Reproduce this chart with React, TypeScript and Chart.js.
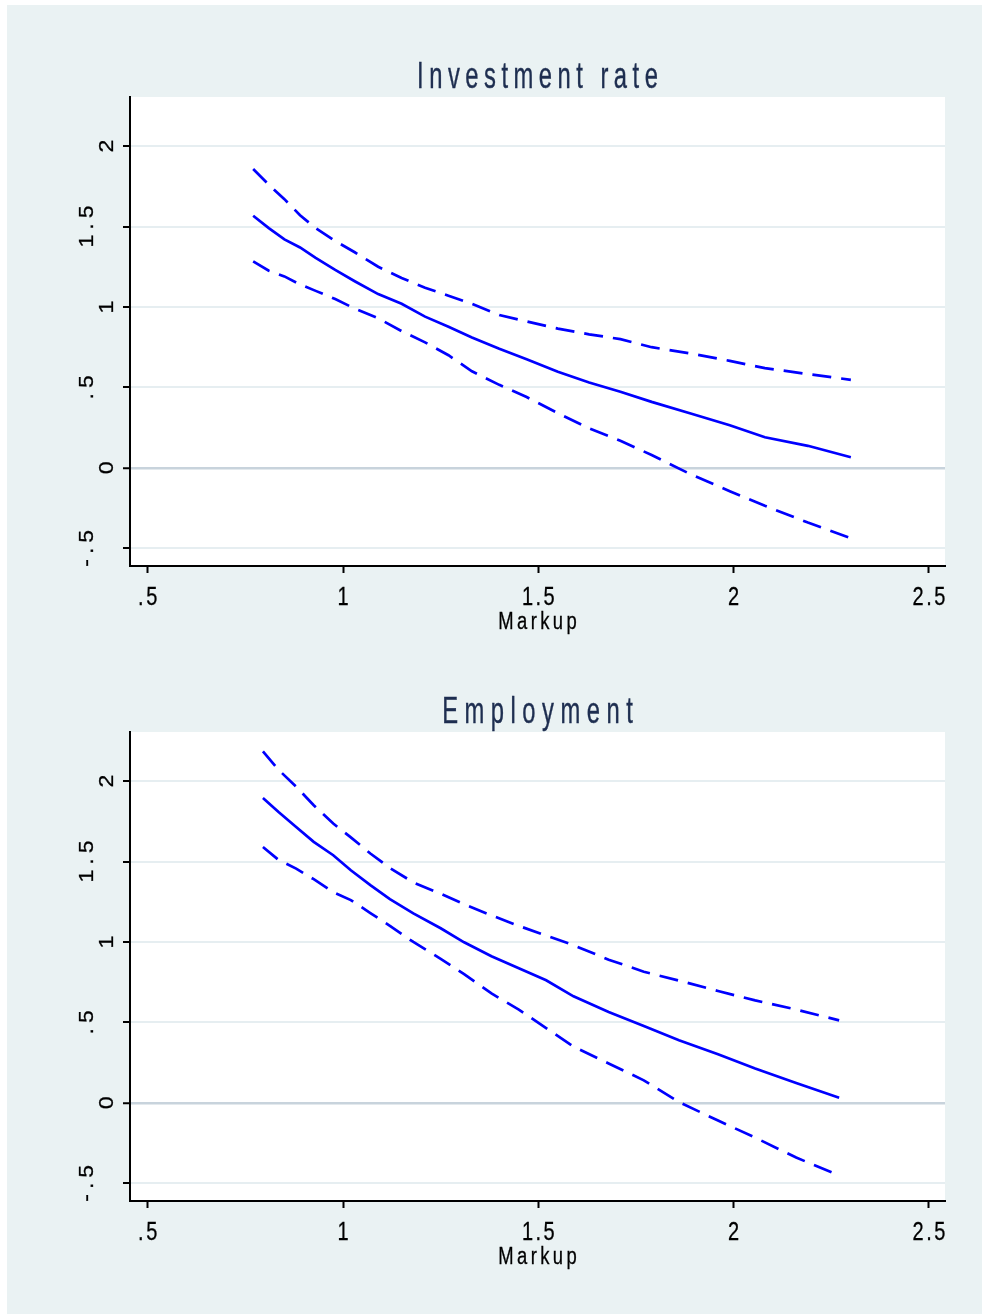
import React, { useEffect, useRef } from "react";
import { Chart, registerables } from "chart.js";

Chart.register(...registerables);

// ---------- data ----------
const investX = [0.77, 0.81, 0.85, 0.89, 0.93, 0.98, 1.03, 1.09, 1.15, 1.21, 1.27, 1.33, 1.4, 1.47, 1.55, 1.63, 1.71, 1.79, 1.89, 1.99, 2.08, 2.19, 2.3];
const investMid = [1.567, 1.49, 1.42, 1.37, 1.305, 1.23, 1.16, 1.08, 1.02, 0.94, 0.877, 0.81, 0.74, 0.675, 0.597, 0.53, 0.473, 0.41, 0.338, 0.265, 0.19, 0.137, 0.066];
const investUpper = [1.857, 1.76, 1.67, 1.57, 1.49, 1.41, 1.34, 1.25, 1.18, 1.12, 1.07, 1.02, 0.95, 0.91, 0.865, 0.83, 0.8, 0.75, 0.711, 0.665, 0.62, 0.583, 0.547];
const investLower = [1.283, 1.225, 1.19, 1.14, 1.1, 1.049, 0.99, 0.93, 0.85, 0.78, 0.7, 0.6, 0.516, 0.44, 0.34, 0.245, 0.168, 0.08, -0.04, -0.145, -0.236, -0.34, -0.437];

const employX = [0.795, 0.835, 0.88, 0.925, 0.975, 1.02, 1.07, 1.12, 1.18, 1.25, 1.31, 1.38, 1.45, 1.52, 1.59, 1.68, 1.77, 1.86, 1.96, 2.055, 2.16, 2.27];
const employMid = [1.895, 1.808, 1.715, 1.622, 1.539, 1.446, 1.353, 1.266, 1.178, 1.085, 0.998, 0.911, 0.836, 0.762, 0.662, 0.565, 0.478, 0.389, 0.302, 0.213, 0.123, 0.032];
const employUpper = [2.185, 2.07, 1.965, 1.85, 1.736, 1.65, 1.55, 1.46, 1.37, 1.3, 1.235, 1.165, 1.1, 1.04, 0.98, 0.89, 0.815, 0.76, 0.695, 0.637, 0.58, 0.513];
const employLower = [1.59, 1.51, 1.456, 1.39, 1.31, 1.26, 1.18, 1.1, 1.0, 0.895, 0.8, 0.68, 0.58, 0.465, 0.35, 0.245, 0.14, 0.005, -0.11, -0.216, -0.34, -0.451];

const yTickValues = [-0.5, 0, 0.5, 1, 1.5, 2];
const yTickLabels = ["-.5", "0", ".5", "1", "1.5", "2"];
const xTickValues = [0.5, 1, 1.5, 2, 2.5];
const xTickLabels = [".5", "1", "1.5", "2", "2.5"];
const panelTitles = ["Investment rate", "Employment"];
const xAxisTitle = "Markup";

const xRange = [0.4547, 2.541];
const yRange = [-0.61, 2.305];

// ---------- styling ----------
const BG = "#eaf2f3";
const FAMILY = "'Liberation Sans', Arial, Helvetica, sans-serif";
const CANVAS_W = 975;
const CANVAS_H = 635;

type TextOpts = { size: number; sx: number; ls: number; color: string; align: "center" | "left" | "right"; weight?: number };

function drawSpaced(ctx: CanvasRenderingContext2D, text: string, x: number, y: number, o: TextOpts) {
  ctx.save();
  ctx.font = `${o.size}px ${FAMILY}`;
  ctx.fillStyle = o.color;
  ctx.strokeStyle = o.color;
  ctx.lineWidth = o.weight || 0;
  ctx.textAlign = "left";
  ctx.textBaseline = "alphabetic";
  const chars = Array.from(text);
  const widths = chars.map((c) => ctx.measureText(c).width * o.sx);
  const total = widths.reduce((a, b) => a + b, 0) + o.ls * (chars.length - 1);
  let start = x;
  if (o.align === "center") start = x - total / 2;
  else if (o.align === "right") start = x - total;
  let cx = start;
  chars.forEach((c, i) => {
    ctx.save();
    ctx.translate(cx, y);
    ctx.scale(o.sx, 1);
    ctx.fillText(c, 0, 0);
    if (o.weight) ctx.strokeText(c, 0, 0);
    ctx.restore();
    cx += widths[i] + o.ls;
  });
  ctx.restore();
}

function makePlugins(title: string, titleLs: number) {
  const bgPlugin = {
    id: "plotBg",
    beforeDraw(chart: any) {
      const { ctx, chartArea } = chart;
      ctx.save();
      ctx.fillStyle = "#ffffff";
      ctx.fillRect(chartArea.left - 1, chartArea.top, chartArea.right - chartArea.left + 1, chartArea.bottom - chartArea.top);
      ctx.restore();
    },
  };
  const textPlugin = {
    id: "stataText",
    afterDraw(chart: any) {
      const { ctx, chartArea } = chart;
      const xs = chart.scales.x;
      const ys = chart.scales.y;
      const cx = (chartArea.left + chartArea.right) / 2;
      // title
      drawSpaced(ctx, title, cx, chartArea.top - 9, { size: 36, sx: 0.66, ls: titleLs, color: "#1e2e50", align: "center", weight: 0.4 });
      // x tick labels
      xTickValues.forEach((v, i) => {
        drawSpaced(ctx, xTickLabels[i], xs.getPixelForValue(v), chartArea.bottom + 39, { size: 25, sx: 0.8, ls: 2.5, color: "#000", align: "center", weight: 0.3 });
      });
      // x axis title
      drawSpaced(ctx, xAxisTitle, cx, chartArea.bottom + 63, { size: 23, sx: 0.8, ls: 3.4, color: "#000", align: "center", weight: 0.3 });
      // y tick labels (rotated)
      yTickValues.forEach((v, i) => {
        const lab = yTickLabels[i];
        const baseX = lab.length === 1 ? chartArea.left - 17 : chartArea.left - 37;
        ctx.save();
        ctx.translate(baseX, ys.getPixelForValue(v));
        ctx.rotate(-Math.PI / 2);
        drawSpaced(ctx, lab, 0, 0, { size: 21, sx: 1.1, ls: 5, color: "#000", align: "center", weight: 0.3 });
        ctx.restore();
      });
    },
  };
  return [bgPlugin, textPlugin];
}

function buildConfig(xs: number[], mid: number[], upper: number[], lower: number[], title: string, titleLs: number): any {
  const blue = "#0000ff";
  const mk = (arr: number[], dashed: boolean) => ({
    data: xs.map((x, i) => ({ x, y: arr[i] })),
    borderColor: blue,
    borderWidth: 2.7,
    borderDash: dashed ? [19, 10] : [],
    pointRadius: 0,
    fill: false,
    tension: 0,
  });
  return {
    type: "line",
    data: { datasets: [mk(upper, true), mk(mid, false), mk(lower, true)] },
    options: {
      animation: false,
      responsive: false,
      devicePixelRatio: 1,
      layout: { padding: { top: 92, right: 37, left: 0, bottom: 0 } },
      plugins: { legend: { display: false }, tooltip: { enabled: false }, title: { display: false } },
      scales: {
        x: {
          type: "linear",
          min: xRange[0],
          max: xRange[1],
          afterBuildTicks: (s: any) => {
            s.ticks = xTickValues.map((v) => ({ value: v }));
          },
          afterFit: (s: any) => {
            s.height = 74;
          },
          ticks: { display: false },
          grid: { display: true, drawOnChartArea: false, drawTicks: true, tickLength: 7, tickWidth: 2, tickColor: "#000" },
          border: { display: true, color: "#000", width: 2 },
        },
        y: {
          type: "linear",
          min: yRange[0],
          max: yRange[1],
          afterBuildTicks: (s: any) => {
            s.ticks = yTickValues.map((v) => ({ value: v }));
          },
          afterFit: (s: any) => {
            s.width = 123;
          },
          ticks: { display: false },
          grid: {
            display: true,
            drawOnChartArea: true,
            color: (c: any) => (c.tick && c.tick.value === 0 ? "#c8d3dc" : "#e6eef1"),
            lineWidth: (c: any) => (c.tick && c.tick.value === 0 ? 2.5 : 2),
            drawTicks: true,
            tickLength: 7,
            tickWidth: 2,
            tickColor: "#000",
          },
          border: { display: true, color: "#000", width: 2 },
        },
      },
    },
    plugins: makePlugins(title, titleLs),
  };
}

function Panel({ top, xs, mid, upper, lower, title, titleLs }: any) {
  const ref = useRef<HTMLCanvasElement | null>(null);
  useEffect(() => {
    if (!ref.current) return;
    const chart = new Chart(ref.current, buildConfig(xs, mid, upper, lower, title, titleLs));
    return () => chart.destroy();
  }, []);
  return (
    <canvas
      ref={ref}
      width={CANVAS_W}
      height={CANVAS_H}
      style={{ position: "absolute", left: 7, top, width: CANVAS_W, height: CANVAS_H }}
    />
  );
}

export default function App() {
  return (
    <div style={{ position: "absolute", left: 0, top: 0, width: 982, height: 1314, background: "#ffffff", overflow: "hidden" }}>
      <div style={{ position: "absolute", left: 7, top: 5, width: 975, height: 1309, background: BG }} />
      <Panel top={5} xs={investX} mid={investMid} upper={investUpper} lower={investLower} title={panelTitles[0]} titleLs={5.5} />
      <Panel top={640} xs={employX} mid={employMid} upper={employUpper} lower={employLower} title={panelTitles[1]} titleLs={6.5} />
    </div>
  );
}
